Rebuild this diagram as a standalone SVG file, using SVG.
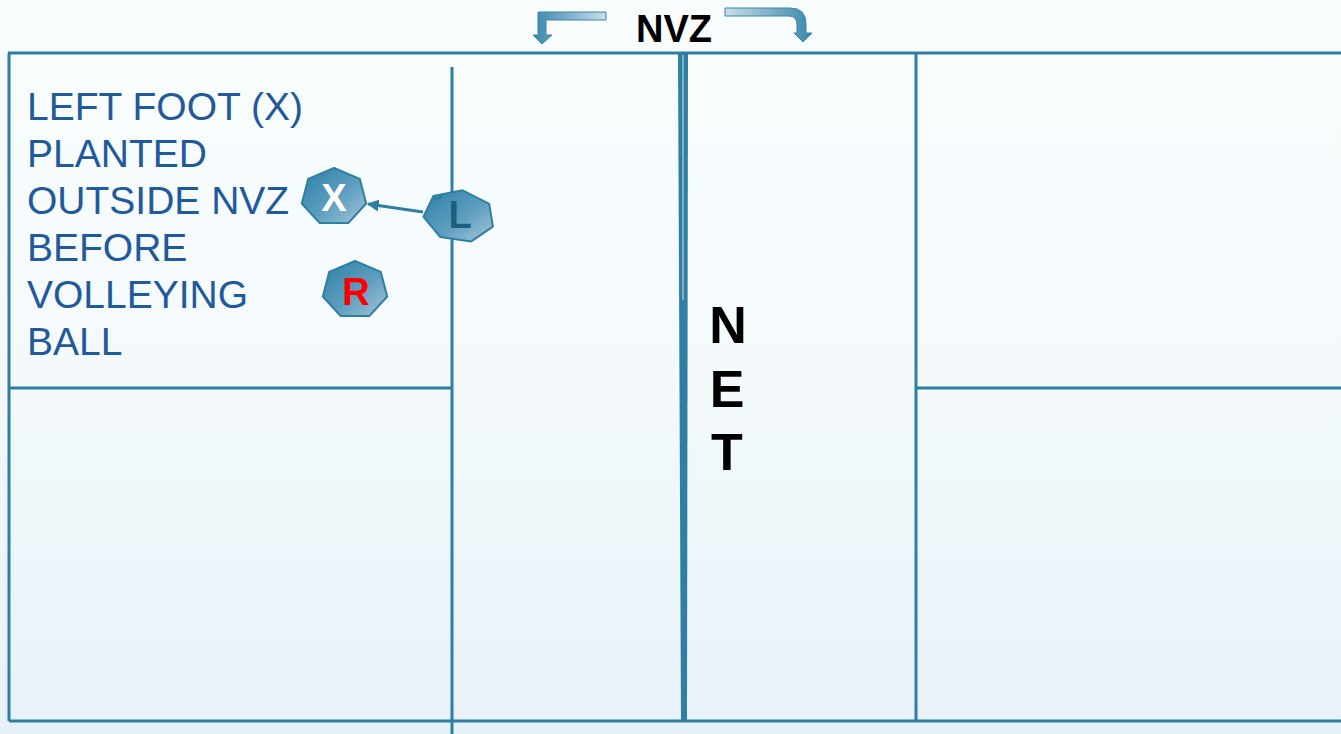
<svg xmlns="http://www.w3.org/2000/svg" width="1341" height="734" viewBox="0 0 1341 734">
  <style>
    .court { stroke: #2f7fa2; stroke-width: 3; fill: none; }
    .note { font-family: "Liberation Sans", Arial, sans-serif; font-size: 39px; fill: #22599a; }
    .title { font-family: "Liberation Sans", Arial, sans-serif; font-weight: bold; fill: #000; }
    .chip { stroke: #2f7fa2; stroke-width: 2; fill: url(#chipFill); stroke-linejoin: round; }
    .chipText { font-family: "Liberation Sans", Arial, sans-serif; font-weight: bold; font-size: 38px; text-anchor: middle; }
  </style>
  <defs>
    <linearGradient id="bg" x1="0" y1="0" x2="0" y2="1">
      <stop offset="0" stop-color="#f8fcfd"/>
      <stop offset="0.5" stop-color="#f4fafc"/>
      <stop offset="1" stop-color="#e7f1f8"/>
    </linearGradient>
    <linearGradient id="chipFill" x1="0" y1="0" x2="1" y2="1">
      <stop offset="0" stop-color="#2f7fa7"/>
      <stop offset="0.55" stop-color="#5d9ebf"/>
      <stop offset="1" stop-color="#a6c7da"/>
    </linearGradient>
    <linearGradient id="arrowFill" x1="0" y1="0" x2="1" y2="0">
      <stop offset="0" stop-color="#3a87ab"/>
      <stop offset="1" stop-color="#c9dee9"/>
    </linearGradient>
    <linearGradient id="arrowFillR" x1="0" y1="0" x2="1" y2="0">
      <stop offset="0" stop-color="#c9dee9"/>
      <stop offset="1" stop-color="#3a87ab"/>
    </linearGradient>
    <marker id="head" viewBox="0 0 10 10" refX="9" refY="5" markerWidth="4" markerHeight="4" orient="auto-start-reverse">
      <path d="M0,0 L10,5 L0,10 z" fill="#2f7fa2"/>
    </marker>
  </defs>

  <rect width="1341" height="734" fill="url(#bg)"/>

  <!-- court lines -->
  <g id="court">
    <path class="court" d="M8,53 H1341 M9,53 V721 M9,721 H1341"/>
    <path class="court" d="M452,67 V734"/>
    <path class="court" d="M916,53 V721"/>
    <path class="court" d="M9,388 H452 M916,388 H1341"/>
  </g>

  <!-- net -->
  <g id="net">
    <polygon points="678,53 688,53 687,721 681,721" fill="#2f7fa2"/>
    <line x1="683" y1="55" x2="683" y2="300" stroke="#cfe3ec" stroke-width="1"/>
    <text class="title" font-size="52" text-anchor="middle" x="728" y="343">N</text>
    <text class="title" font-size="52" text-anchor="middle" x="727" y="407">E</text>
    <text class="title" font-size="52" text-anchor="middle" x="727" y="470">T</text>
  </g>

  <!-- NVZ heading with arrows -->
  <g id="nvz">
    <text class="title" font-size="38" text-anchor="middle" x="674" y="42">NVZ</text>
    <path fill="url(#arrowFill)" stroke="#3a86aa" stroke-width="1" d="M606,12 V20 H546 V35 H552 L542,44 L533,35 H538 V12 Z"/>
    <path fill="url(#arrowFillR)" stroke="#3a86aa" stroke-width="1" d="M725,8 H790 Q806,8 806,24 V33 H812 L803,42 L794,33 H797 V25 Q797,16 789,16 H725 Z"/>
  </g>

  <!-- note -->
  <g id="note">
    <text class="note" x="27" y="120">LEFT FOOT (X)</text>
    <text class="note" x="27" y="167">PLANTED</text>
    <text class="note" x="27" y="214">OUTSIDE NVZ</text>
    <text class="note" x="27" y="261">BEFORE</text>
    <text class="note" x="27" y="308">VOLLEYING</text>
    <text class="note" x="27" y="355">BALL</text>
  </g>

  <!-- connectors -->
  <g id="connectors">
    <line x1="423" y1="212" x2="368" y2="204" stroke="#2f7fa2" stroke-width="3" marker-end="url(#head)"/>
  </g>

  <!-- players -->
  <g id="player-x">
    <polygon class="chip" points="334,168 359.8,178.9 366.2,203.5 348.3,223.1 319.7,223.1 301.8,203.5 308.2,178.9"/>
    <text class="chipText" x="334" y="211" fill="#ffffff">X</text>
  </g>
  <g id="player-l">
    <polygon class="chip" points="462.6,190.3 489.2,203.9 492.9,226.6 471.2,241.4 440.3,237 423.5,216.8 433.3,196.1"/>
    <path d="M432,200 L444,193 L441,199 Z" fill="#2f7fa2"/>
    <text class="chipText" x="460" y="228" fill="#1e5f80">L</text>
  </g>
  <g id="player-r">
    <polygon class="chip" points="355,261 380.8,271.9 387.2,296.5 369.3,316.1 340.7,316.1 322.8,296.5 329.2,271.9"/>
    <text class="chipText" x="356" y="305" fill="#ff0000">R</text>
  </g>
</svg>
